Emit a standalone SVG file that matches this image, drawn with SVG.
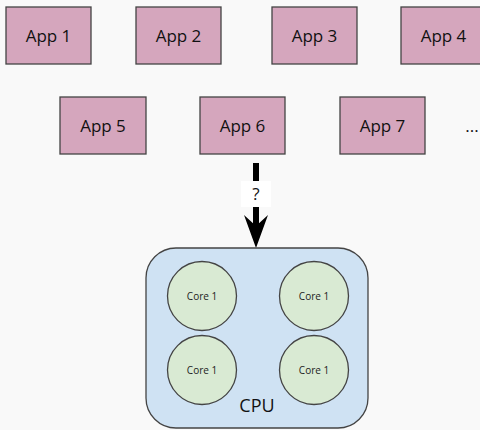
<svg xmlns="http://www.w3.org/2000/svg" width="480" height="430" viewBox="0 0 480 430">
<style>
.app rect{fill:#d5a6bd;stroke:#444;stroke-width:1.3}
.app text{font-family:"Open Sans",sans-serif;font-size:17px;text-anchor:middle;fill:#111}
.core circle{fill:#d9ead3;stroke:#444;stroke-width:1.3}
.core text{font-family:"Open Sans",sans-serif;font-size:10px;text-anchor:middle;fill:#222}
</style>
<rect width="480" height="430" fill="#f9f9f9"/>
<g id="app1" class="app"><rect x="6" y="7" width="85" height="57"/><text x="48.5" y="42">App 1</text></g>
<g id="app2" class="app"><rect x="136" y="7" width="85" height="57"/><text x="178.5" y="42">App 2</text></g>
<g id="app3" class="app"><rect x="272" y="7" width="85" height="57"/><text x="314.5" y="42">App 3</text></g>
<g id="app4" class="app"><rect x="401" y="7" width="85" height="57"/><text x="443.5" y="42">App 4</text></g>
<g id="app5" class="app"><rect x="60" y="97" width="86" height="57"/><text x="103" y="132">App 5</text></g>
<g id="app6" class="app"><rect x="200" y="97" width="85" height="57"/><text x="242.5" y="132">App 6</text></g>
<g id="app7" class="app"><rect x="340" y="97" width="85" height="57"/><text x="382.5" y="132">App 7</text></g>
<g id="more"><text x="472" y="132" font-family="Open Sans, sans-serif" font-size="17" text-anchor="middle" fill="#111">...</text></g>
<g id="connectors">
<line x1="256" y1="163" x2="256" y2="232" stroke="#000" stroke-width="6"/>
<path d="M256 248 L244 215 L256 226 L268 215 Z" fill="#000"/>
<rect x="241" y="181" width="30" height="26" fill="#fff"/>
<text x="256" y="200" font-family="Open Sans, sans-serif" font-size="17" text-anchor="middle" fill="#111">?</text>
</g>
<g id="cpu">
<rect x="146" y="248" width="222" height="180" rx="30" ry="30" fill="#cfe2f3" stroke="#444" stroke-width="1.3"/>
<text x="257" y="412" font-family="Open Sans, sans-serif" font-size="18" text-anchor="middle" fill="#111">CPU</text>
</g>
<g id="core_tl" class="core"><circle cx="202" cy="296" r="34.5"/><text x="202" y="300">Core 1</text></g>
<g id="core_tr" class="core"><circle cx="314" cy="296" r="34.5"/><text x="314" y="300">Core 1</text></g>
<g id="core_bl" class="core"><circle cx="202" cy="370" r="34.5"/><text x="202" y="374">Core 1</text></g>
<g id="core_br" class="core"><circle cx="314" cy="370" r="34.5"/><text x="314" y="374">Core 1</text></g>
</svg>
